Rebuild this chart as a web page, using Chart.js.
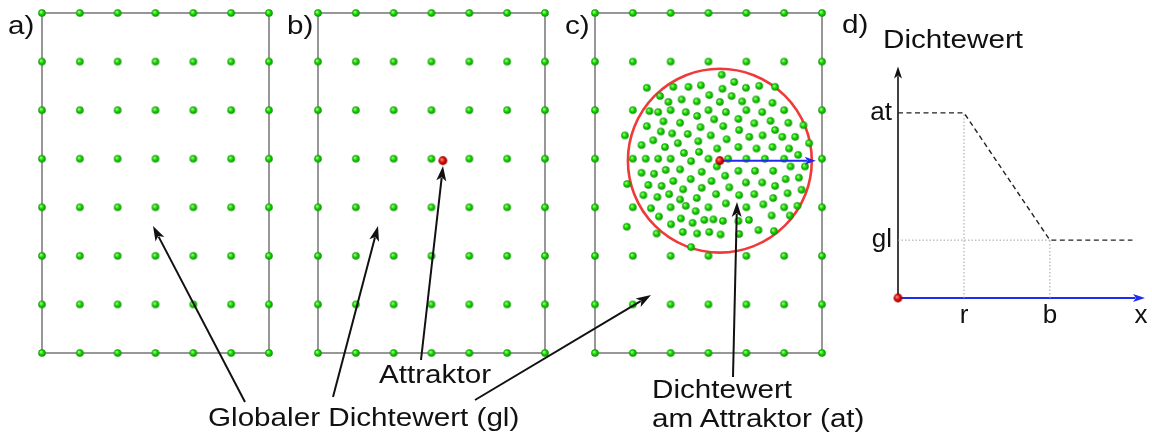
<!DOCTYPE html>
<html>
<head>
<meta charset="utf-8">
<script src="https://cdn.jsdelivr.net/npm/chart.js@4.4.0/dist/chart.umd.min.js"></script>
<style>
  html, body { margin: 0; padding: 0; background: #fff; }
  body { width: 1152px; height: 435px; position: relative; overflow: hidden;
         font-family: "Liberation Sans", Arial, sans-serif; }
  canvas.panel { position: absolute; }
  .lbl { position: absolute; font-size: 26px; line-height: 26px; color: #111; white-space: nowrap;
         transform: scaleX(1.14); transform-origin: 0 0; }
  #callouts { position: absolute; left: 0; top: 0; pointer-events: none; }
</style>
</head>
<body>
<canvas id="pa" class="panel" width="247" height="360" style="left:32px;top:3px"></canvas>
<canvas id="pb" class="panel" width="247" height="360" style="left:308px;top:3px"></canvas>
<canvas id="pc" class="panel" width="247" height="360" style="left:585px;top:3px"></canvas>
<canvas id="pd" class="panel" width="312" height="300" style="left:840px;top:45px"></canvas>
<canvas id="callouts" width="1152" height="435"></canvas>

<div class="lbl" style="left:8px;top:12px">a)</div>
<div class="lbl" style="left:287px;top:12px">b)</div>
<div class="lbl" style="left:565px;top:12px">c)</div>
<div class="lbl" style="left:842px;top:11px">d)</div>
<div class="lbl" style="left:883px;top:26px">Dichtewert</div>
<div class="lbl" style="left:379px;top:361px">Attraktor</div>
<div class="lbl" style="left:208px;top:404px">Globaler Dichtewert (gl)</div>
<div class="lbl" style="left:652px;top:376px">Dichtewert</div>
<div class="lbl" style="left:652px;top:405px">am Attraktor (at)</div>

<script>
// grid of sample points (column / row indices), same for a), b), c)
const gridCols = [0, 1, 2, 3, 4, 5, 6];
const gridRows = [0, 1, 2, 3, 4, 5, 6, 7];

// attractor position and radius (radius in column units)
const attractor = [3.3, 3.96];
const attractorRadius = 2.43;

// extra points around the attractor in c) (column, row units)
const densePoints = [
  [1.37,5.46],[2.07,5.48],[2.47,5.48],[2.80,5.51],[1.72,5.29],[2.29,5.22],[3.02,5.31],[1.94,5.17],[2.69,5.18],[1.44,4.98],
  [1.67,4.96],[2.40,4.96],[2.70,4.88],[1.81,4.77],[2.25,4.74],[3.15,4.81],[1.37,4.67],[2.79,4.65],[1.74,4.56],[2.04,4.52],
  [2.45,4.51],[3.06,4.48],[0.79,4.48],[1.54,4.38],[2.73,4.36],[1.23,4.28],[2.19,4.32],[1.85,4.24],[2.35,4.12],[2.75,4.14],
  [3.23,4.21],[1.34,4.00],[1.67,4.00],[2.54,3.95],
  [3.35,5.73],[3.68,5.58],[3.99,5.46],[4.34,5.50],[4.76,5.48],[3.37,5.44],[3.61,5.29],[4.26,5.22],[4.69,5.15],[3.30,5.17],
  [3.89,5.18],[3.46,4.96],[4.42,4.96],[3.79,4.82],[4.21,4.73],[4.64,4.78],[5.11,4.74],[3.39,4.67],[3.81,4.59],[4.76,4.59],
  [5.51,4.69],[4.08,4.45],[4.43,4.48],[4.95,4.45],[5.29,4.45],[3.48,4.40],[5.66,4.32],[3.79,4.24],[4.27,4.21],[4.69,4.24],
  [5.13,4.21],[3.52,4.00],[4.49,4.00],[5.37,4.08],
  [3.22,3.84],[1.23,3.71],[1.56,3.69],[1.87,3.77],[2.25,3.78],[2.82,3.73],[0.85,3.48],[1.41,3.46],[1.76,3.44],[2.07,3.54],
  [2.53,3.58],[3.08,3.54],[1.28,3.25],[1.65,3.21],[1.96,3.27],[2.33,3.37],[2.82,3.40],[3.20,3.27],[2.25,3.16],[2.69,3.19],
  [1.48,2.98],[2.40,3.03],[2.66,2.92],[1.69,2.81],[2.27,2.77],[2.89,2.74],[2.58,2.68],[3.13,2.75],[0.84,2.60],[2.01,2.65],
  [1.63,2.46],[2.32,2.49],[2.70,2.46],[3.02,2.49],[3.32,2.44],[2.54,2.18],
  [3.44,3.65],[3.79,3.75],[4.23,3.75],[4.71,3.75],[5.17,3.84],[5.55,3.84],[3.55,3.41],[3.99,3.51],[4.42,3.51],[4.76,3.44],
  [5.04,3.58],[5.39,3.61],[5.46,3.36],[3.81,3.25],[4.21,3.27],[4.71,3.19],[5.09,3.29],[3.46,3.08],[4.45,3.06],[5.35,3.03],
  [3.38,2.72],[3.79,2.72],[4.07,2.74],[4.67,2.83],[5.15,2.83],[3.81,2.45],[4.32,2.53],[4.73,2.51]
];

// d) density profile
const levelLabels = ["gl", "at"];
const levelValues = [1, 3.2];
const distLabels = ["r", "b", "x"];
const distValues = [1, 2.3, 3.68];
const profileX = [0, 1, 2.3, 3.55];
const profileY = [3.2, 3.2, 1, 1];

// callout arrows (page pixels): tail -> tip
const callouts = [
  { from: [245, 402], to: [153, 226] },
  { from: [333, 397], to: [378, 226] },
  { from: [421, 360], to: [443, 166] },
  { from: [475, 400], to: [651, 295] },
  { from: [733, 377], to: [737, 202] }
];

const FONT = '"Liberation Sans", Arial, sans-serif';

function ball(r, light, mid, dark) {
  const c = document.createElement("canvas");
  const s = Math.ceil(r * 2 + 2);
  c.width = c.height = s;
  const g = c.getContext("2d");
  const grad = g.createRadialGradient(s / 2 - r * 0.3, s / 2 - r * 0.3, r * 0.1, s / 2, s / 2, r);
  grad.addColorStop(0, light);
  grad.addColorStop(0.5, mid);
  grad.addColorStop(1, dark);
  g.fillStyle = grad;
  g.beginPath();
  g.arc(s / 2, s / 2, r, 0, Math.PI * 2);
  g.fill();
  return c;
}
const greenBall = ball(3.8, "#9dff7a", "#14d400", "#0a8c00");
const redBall = ball(4.4, "#ff8a7a", "#e40808", "#800000");

function arrow(ctx, x1, y1, x2, y2, color, width, headLen, headW) {
  const a = Math.atan2(y2 - y1, x2 - x1);
  ctx.save();
  ctx.strokeStyle = color;
  ctx.fillStyle = color;
  ctx.lineWidth = width;
  ctx.beginPath();
  ctx.moveTo(x1, y1);
  ctx.lineTo(x2 - Math.cos(a) * headLen * 0.8, y2 - Math.sin(a) * headLen * 0.8);
  ctx.stroke();
  ctx.translate(x2, y2);
  ctx.rotate(a);
  ctx.beginPath();
  ctx.moveTo(0, 0);
  ctx.lineTo(-headLen, -headW / 2);
  ctx.lineTo(-headLen * 0.75, 0);
  ctx.lineTo(-headLen, headW / 2);
  ctx.closePath();
  ctx.fill();
  ctx.restore();
}

const gridPoints = [];
gridRows.forEach(r => gridCols.forEach(c => gridPoints.push({ x: c, y: r })));

const framePlugin = {
  id: "frame",
  beforeDatasetsDraw(chart) {
    const { ctx, chartArea: a } = chart;
    ctx.save();
    ctx.strokeStyle = "#7d7d7d";
    ctx.lineWidth = 1.6;
    ctx.strokeRect(a.left, a.top, a.width, a.height);
    ctx.restore();
  }
};

const attractorPlugin = {
  id: "attractorCircle",
  beforeDatasetsDraw(chart) {
    const { ctx, scales: { x, y } } = chart;
    const cx = x.getPixelForValue(attractor[0]);
    const cy = y.getPixelForValue(attractor[1]);
    const r = x.getPixelForValue(attractor[0] + attractorRadius) - cx;
    ctx.save();
    ctx.strokeStyle = "#f03a3a";
    ctx.lineWidth = 2.6;
    ctx.beginPath();
    ctx.arc(cx, cy, r, 0, Math.PI * 2);
    ctx.stroke();
    ctx.restore();
  },
  afterDatasetDraw(chart, args) {
    if (args.index !== 1) return;
    const { ctx, scales: { x, y } } = chart;
    const cx = x.getPixelForValue(attractor[0]);
    const cy = y.getPixelForValue(attractor[1]);
    const r = x.getPixelForValue(attractor[0] + attractorRadius) - cx;
    arrow(ctx, cx, cy, cx + r + 4, cy, "#1f2cf0", 2, 11, 8);
  }
};

function panel(id, datasets, extra) {
  return new Chart(document.getElementById(id), {
    type: "scatter",
    data: { datasets },
    options: {
      responsive: false,
      animation: false,
      events: [],
      layout: { padding: 10 },
      plugins: { legend: { display: false }, tooltip: { enabled: false } },
      scales: {
        x: { type: "linear", min: 0, max: 6, display: false },
        y: { type: "linear", min: 0, max: 7, display: false }
      }
    },
    plugins: [framePlugin].concat(extra || [])
  });
}

const gridSet = () => ({ data: gridPoints, pointStyle: greenBall, pointRadius: 4, clip: false });
const attractorSet = () => ({ data: [{ x: attractor[0], y: attractor[1] }], pointStyle: redBall, pointRadius: 4, clip: false });

panel("pa", [gridSet()]);
panel("pb", [attractorSet(), gridSet()]);
panel("pc", [
  attractorSet(),
  { data: densePoints.map(p => ({ x: p[0], y: p[1] })), pointStyle: greenBall, pointRadius: 4, clip: false },
  gridSet()
], [attractorPlugin]);

// d) profile chart
const axesPlugin = {
  id: "axes",
  beforeDatasetsDraw(chart) {
    const { ctx, chartArea: a, scales: { x, y } } = chart;
    const x0 = x.getPixelForValue(0), y0 = y.getPixelForValue(0);
    arrow(ctx, x0, y0, x0, a.top, "#111", 1.6, 12, 8);
    arrow(ctx, x0, y0, a.right, y0, "#1f2cf0", 2, 12, 8);
  }
};

const guide = (pts) => ({
  data: pts, showLine: true, borderColor: "#a0a0a0", borderWidth: 1, borderDash: [1.5, 2],
  pointRadius: 0, clip: false
});

new Chart(document.getElementById("pd"), {
  type: "scatter",
  data: {
    datasets: [
      { data: [{ x: 0, y: 0 }], pointStyle: redBall, pointRadius: 4, clip: false },
      { data: profileX.map((v, i) => ({ x: v, y: profileY[i] })), showLine: true,
        borderColor: "#222", borderWidth: 1.4, borderDash: [5, 3.5], pointRadius: 0, clip: false },
      guide([{ x: distValues[0], y: 0 }, { x: distValues[0], y: levelValues[1] }]),
      guide([{ x: distValues[1], y: 0 }, { x: distValues[1], y: levelValues[0] }]),
      guide([{ x: 0, y: levelValues[0] }, { x: distValues[1], y: levelValues[0] }])
    ]
  },
  options: {
    responsive: false,
    animation: false,
    events: [],
    layout: { padding: { top: 20, right: 7, left: 0, bottom: 0 } },
    plugins: { legend: { display: false }, tooltip: { enabled: false } },
    scales: {
      x: {
        type: "linear", min: 0, max: 3.74,
        grid: { display: false, drawTicks: false }, border: { display: false },
        afterBuildTicks: s => { s.ticks = distValues.map(v => ({ value: v })); },
        afterFit: s => { s.height = 47; },
        ticks: { autoSkip: false, maxRotation: 0, padding: 2, color: "#111",
                 font: { family: FONT, size: 26 }, callback: (v, i) => distLabels[i] }
      },
      y: {
        type: "linear", min: 0, max: 4,
        grid: { display: false, drawTicks: false }, border: { display: false },
        afterBuildTicks: s => { s.ticks = levelValues.map(v => ({ value: v })); },
        afterFit: s => { s.width = 58; },
        ticks: { autoSkip: false, padding: 6, color: "#111",
                 font: { family: FONT, size: 26 }, callback: (v, i) => levelLabels[i] }
      }
    }
  },
  plugins: [axesPlugin]
});

// callout arrows
const cctx = document.getElementById("callouts").getContext("2d");
callouts.forEach(c => arrow(cctx, c.from[0], c.from[1], c.to[0], c.to[1], "#111", 2, 15, 10));
</script>
</body>
</html>
